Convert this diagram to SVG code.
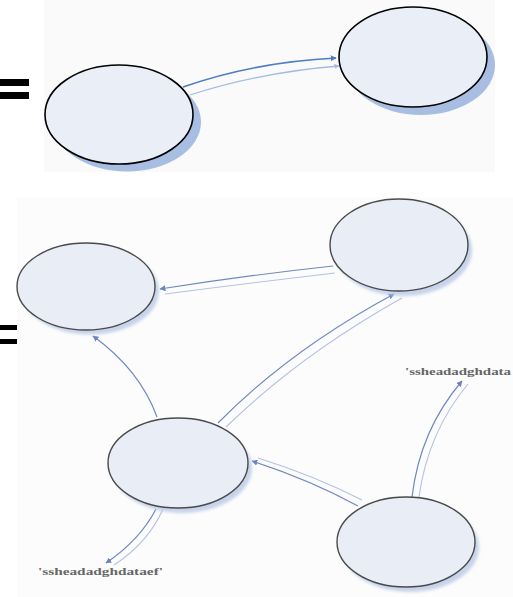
<svg xmlns="http://www.w3.org/2000/svg" width="513" height="597" viewBox="0 0 513 597">
<defs>
<style>
.eq{fill:#000}
.shadowT{fill:#a7bde1}
.nodeT{fill:#e9eef7;stroke:#000;stroke-width:1.6}
.shadowB{fill:#b9c9e6;opacity:0.8}
.nodeB{fill:#e8edf6;stroke:#4a4a4a;stroke-width:1.4}
.cDark{fill:none;stroke:#4d7bc4;stroke-width:1.6}
.cLight{fill:none;stroke:#a3bbe3;stroke-width:1.3}
.bA{fill:none;stroke:#7088c2;stroke-width:1.2}
.bB{fill:none;stroke:#b4c1e3;stroke-width:1.1}
.lbl{font-family:"Liberation Serif",serif;font-size:10px;font-weight:bold;fill:#666}
</style>
<marker id="ahD" viewBox="0 0 10 10" refX="9" refY="5" markerWidth="6" markerHeight="6" orient="auto" markerUnits="userSpaceOnUse"><path d="M0,0 L10,5 L0,10 z" fill="#4d7bc4"/></marker>
<marker id="ahL" viewBox="0 0 10 10" refX="9" refY="5" markerWidth="5" markerHeight="5" orient="auto" markerUnits="userSpaceOnUse"><path d="M0,0 L10,5 L0,10 z" fill="#a3bbe3"/></marker>
<marker id="ahB" viewBox="0 0 10 10" refX="9" refY="5" markerWidth="6" markerHeight="6" orient="auto" markerUnits="userSpaceOnUse"><path d="M0,0 L10,5 L0,10 z" fill="#6a82bf"/></marker>
<filter id="blur" x="-20%" y="-20%" width="140%" height="140%"><feGaussianBlur stdDeviation="1.5"/></filter>
</defs>
<rect x="0" y="0" width="513" height="597" fill="#ffffff"/>
<rect x="44" y="0" width="451" height="172" fill="#fafafa"/>
<rect x="17" y="197" width="496" height="400" fill="#fcfcfc"/>
<g id="equals-top"><rect class="eq" x="0" y="79" width="29" height="7"/><rect class="eq" x="0" y="92" width="29" height="7"/></g>
<g id="equals-bottom"><rect class="eq" x="0" y="325" width="17" height="5"/><rect class="eq" x="0" y="339" width="17" height="5"/></g>
<g id="connectors">
<path class="cDark" d="M183,87 Q255,62 336,58" marker-end="url(#ahD)"/>
<path class="cLight" d="M190,95 Q262,72 339,66" marker-end="url(#ahL)"/>
<path class="bA" d="M333,266 Q250,275 160,289" marker-end="url(#ahB)"/>
<path class="bB" d="M335,273 Q250,283 165,294"/>
<path class="bA" d="M157,417 Q140,370 93,336" marker-end="url(#ahB)"/>
<path class="bA" d="M218,423 Q290,350 394,294" marker-end="url(#ahB)"/>
<path class="bB" d="M226,427 Q300,355 402,298"/>
<path class="bA" d="M358,506 Q310,480 252,461" marker-end="url(#ahB)"/>
<path class="bB" d="M362,500 Q315,476 258,458"/>
<path class="bA" d="M412,497 Q420,430 462,381" marker-end="url(#ahB)"/>
<path class="bB" d="M419,497 Q428,432 468,384"/>
<path class="bA" d="M156,509 Q140,540 106,563" marker-end="url(#ahB)"/>
<path class="bB" d="M163,509 Q148,543 114,565"/>
</g>
<g id="node-top-left"><ellipse class="shadowT" cx="127" cy="122" rx="74" ry="49.5"/><ellipse class="nodeT" cx="119" cy="114.5" rx="74" ry="49.5"/></g>
<g id="node-top-right"><ellipse class="shadowT" cx="421" cy="65" rx="74" ry="50"/><ellipse class="nodeT" cx="413" cy="57" rx="74" ry="50"/></g>
<g id="node-b-left"><ellipse class="shadowB" cx="90" cy="291" rx="69" ry="43.5" filter="url(#blur)"/><ellipse class="nodeB" cx="86" cy="286.5" rx="69" ry="43.5"/></g>
<g id="node-b-right"><ellipse class="shadowB" cx="403" cy="250" rx="69" ry="46" filter="url(#blur)"/><ellipse class="nodeB" cx="399" cy="245" rx="69" ry="46"/></g>
<g id="node-b-mid"><ellipse class="shadowB" cx="182" cy="468" rx="70" ry="45" filter="url(#blur)"/><ellipse class="nodeB" cx="178" cy="463" rx="70" ry="45"/></g>
<g id="node-b-lowright"><ellipse class="shadowB" cx="410" cy="547" rx="69" ry="45" filter="url(#blur)"/><ellipse class="nodeB" cx="406" cy="542" rx="69" ry="45"/></g>
<g id="label-right"><text class="lbl" x="405" y="375" textLength="106" lengthAdjust="spacingAndGlyphs">'ssheadadghdata</text></g>
<g id="label-left"><text class="lbl" x="38" y="575" textLength="125" lengthAdjust="spacingAndGlyphs">'ssheadadghdataef'</text></g>
</svg>
